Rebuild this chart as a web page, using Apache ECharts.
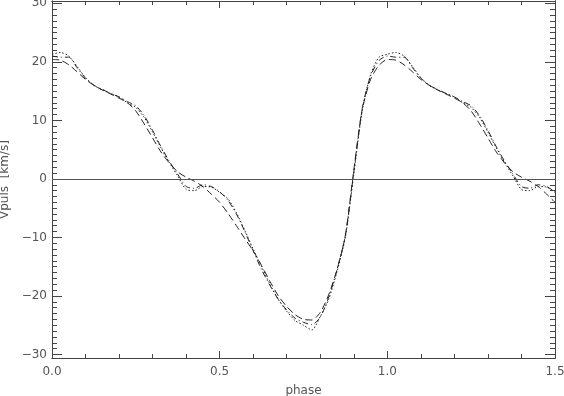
<!DOCTYPE html>
<html>
<head>
<meta charset="utf-8">
<script src="https://cdn.jsdelivr.net/npm/echarts@6.0.0/dist/echarts.min.js"></script>
<style>
  html, body { margin: 0; padding: 0; background: #fff; }
  #chart { width: 564px; height: 396px; }
</style>
</head>
<body>
<div id="chart"></div>
<script>
// phase grid of one cycle, the curves repeat after phase 1
const phase = [0, 0.025, 0.05, 0.075, 0.1, 0.125, 0.15, 0.175, 0.2, 0.225, 0.25, 0.275, 0.3, 0.325, 0.35, 0.375,
  0.4, 0.425, 0.45, 0.475, 0.5, 0.525, 0.55, 0.575, 0.6, 0.625, 0.65, 0.675, 0.7, 0.725, 0.75, 0.775,
  0.8, 0.825, 0.85, 0.875, 0.9, 0.925, 0.95, 0.975, 1.0];

const vDashed = [20.4, 20.3, 19.5, 18.3, 17.0, 16.0, 15.2, 14.5, 13.8, 13.0, 11.6, 9.4, 7.0, 4.6, 2.7, 1.2,
  0.3, -0.4, -1.3, -2.6, -4.0, -5.9, -8.0, -10.2, -12.3, -14.8, -17.5, -20.0, -21.8, -23.2, -24.0, -24.1,
  -22.8, -19.8, -15.5, -9.6, 1.5, 11.8, 17.0, 19.4, 20.4];

const vDashDot = [21.0, 20.8, 20.8, 19.0, 17.2, 16.0, 15.3, 14.6, 14.0, 13.2, 12.5, 10.8, 8.3, 5.5, 3.0, 0.8,
  -1.3, -1.6, -1.0, -1.3, -2.2, -3.7, -6.0, -9.0, -12.3, -15.5, -18.2, -20.6, -22.4, -23.8, -24.5, -24.9,
  -23.6, -20.2, -15.5, -9.6, 1.2, 12.0, 17.6, 20.2, 21.0];

const vDotted = [21.3, 21.6, 21.0, 19.2, 17.3, 16.0, 15.2, 14.6, 14.0, 13.0, 12.2, 10.5, 8.0, 5.3, 2.8, 0.5,
  -1.8, -2.0, -1.3, -1.4, -2.3, -3.4, -5.8, -8.8, -12.0, -15.0, -18.0, -20.6, -22.6, -24.2, -25.0, -25.8,
  -23.5, -20.6, -15.8, -9.9, 0.8, 11.6, 17.8, 20.8, 21.3];

const xTicks = [0, 0.5, 1.0, 1.5];
const xTickLabels = ["0.0", "0.5", "1.0", "1.5"];
const yTicks = [-30, -20, -10, 0, 10, 20, 30];
const yTickLabels = ["\u221230", "\u221220", "\u221210", "0", "10", "20", "30"];

// minor tick positions
const xMinor = [];
for (let i = 0; i <= 15; i++) xMinor.push(+(i * 0.1).toFixed(1));
const yMinor = [];
for (let v = -30; v <= 30; v++) yMinor.push(v);

function cycle(values) {
  let out = phase.map((p, i) => [p, values[i]]);
  phase.forEach((p, i) => {
    if (p > 0 && p <= 0.5) out.push([p + 1, values[i]]);
  });
  return out;
}

const frameColor = "#444";
const textStyle = { color: "#555", fontFamily: "DejaVu Sans", fontSize: 12 };

function xAx(pos, ticks, len, labels) {
  return {
    type: "value", position: pos, min: 0, max: 1.5,
    axisLine: { show: true, onZero: false, lineStyle: { color: frameColor, width: 1 } },
    axisTick: { show: true, inside: true, length: len, customValues: ticks, lineStyle: { color: frameColor } },
    axisLabel: labels ? Object.assign({
      show: true, margin: 8, customValues: xTicks,
      formatter: v => xTickLabels[xTicks.indexOf(+v.toFixed(1))]
    }, textStyle) : { show: false },
    splitLine: { show: false }
  };
}

function yAx(pos, ticks, len, labels) {
  return {
    type: "value", position: pos, min: -30.6, max: 30.4,
    axisLine: { show: true, onZero: false, lineStyle: { color: frameColor, width: 1 } },
    axisTick: { show: true, inside: true, length: len, customValues: ticks, lineStyle: { color: frameColor } },
    axisLabel: labels ? Object.assign({
      show: true, margin: 5, customValues: yTicks,
      formatter: v => yTickLabels[yTicks.indexOf(Math.round(v))]
    }, textStyle) : { show: false },
    splitLine: { show: false }
  };
}

let xAxes = [
  xAx("bottom", xTicks, 7, true),
  xAx("bottom", xMinor, 4, false),
  xAx("top", xTicks, 7, false),
  xAx("top", xMinor, 4, false)
];
xAxes[0].name = "phase";
xAxes[0].nameLocation = "middle";
xAxes[0].nameGap = 27;
xAxes[0].nameTextStyle = textStyle;

let yAxes = [
  yAx("left", yTicks, 10, true),
  yAx("left", yMinor, 5, false),
  yAx("right", yTicks, 10, false),
  yAx("right", yMinor, 5, false)
];
yAxes[0].name = "Vpuls  [km/s]";
yAxes[0].nameLocation = "middle";
yAxes[0].nameGap = 38;
yAxes[0].nameTextStyle = textStyle;

function line(name, values, dash) {
  return {
    name: name, type: "line", data: cycle(values),
    symbol: "none", smooth: 0.25, animation: false,
    lineStyle: { color: "#222", width: 1, type: dash }
  };
}

let option = {
  backgroundColor: "#fff",
  animation: false,
  grid: { left: 52, right: 9, top: 1, bottom: 38, containLabel: false, outerBoundsMode: "none" },
  xAxis: xAxes,
  yAxis: yAxes,
  series: [
    Object.assign(line("dashed", vDashed, [7, 4]), {
      markLine: {
        silent: true, symbol: "none", label: { show: false },
        lineStyle: { color: "#555", width: 1, type: "solid" },
        data: [{ yAxis: 0 }]
      }
    }),
    line("dashdot", vDashDot, [6, 3, 1, 3]),
    line("dotted", vDotted, [1.5, 2])
  ]
};

let chart = echarts.init(document.getElementById("chart"));
chart.setOption(option);
</script>
</body>
</html>
